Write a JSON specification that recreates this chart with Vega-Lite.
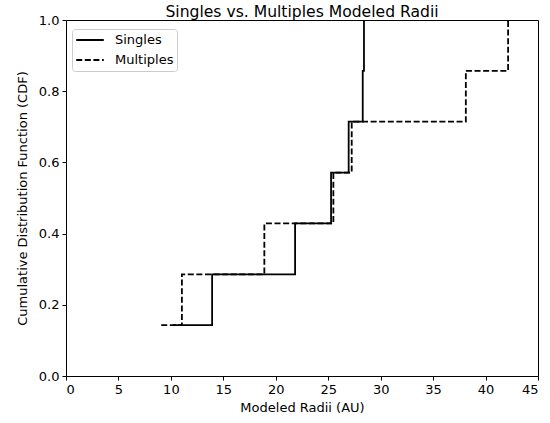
{
  "$schema": "https://vega.github.io/schema/vega-lite/v6.json",
  "autosize": {"type": "none"},
  "width": 472,
  "height": 356,
  "padding": {"left": 66, "top": 20, "right": 12, "bottom": 47},
  "background": "white",
  "config": {
    "font": "DejaVu Sans",
    "view": {"stroke": "black", "strokeWidth": 1},
    "axis": {
      "domain": false,
      "grid": false,
      "tickColor": "black",
      "tickSize": 4,
      "tickWidth": 1,
      "labelColor": "black",
      "labelFontSize": 13,
      "titleFontSize": 13,
      "titleFontWeight": "normal",
      "titleColor": "black",
      "labelPadding": 3
    }
  },
  "title": {
    "text": "Singles vs. Multiples Modeled Radii",
    "fontSize": 15.6,
    "fontWeight": "normal",
    "color": "black",
    "anchor": "middle",
    "frame": "group",
    "offset": 3,
    "dy": 10
  },
  "data": {
    "values": [
      {"group": "Singles", "radius": 10.2, "cdf": 0.142857},
      {"group": "Singles", "radius": 13.93, "cdf": 0.285714},
      {"group": "Singles", "radius": 21.84, "cdf": 0.428571},
      {"group": "Singles", "radius": 25.27, "cdf": 0.571429},
      {"group": "Singles", "radius": 26.95, "cdf": 0.714286},
      {"group": "Singles", "radius": 28.29, "cdf": 0.857143},
      {"group": "Singles", "radius": 28.41, "cdf": 1.0},
      {"group": "Multiples", "radius": 9.08, "cdf": 0.142857},
      {"group": "Multiples", "radius": 11.05, "cdf": 0.285714},
      {"group": "Multiples", "radius": 18.91, "cdf": 0.428571},
      {"group": "Multiples", "radius": 25.49, "cdf": 0.571429},
      {"group": "Multiples", "radius": 27.24, "cdf": 0.714286},
      {"group": "Multiples", "radius": 38.12, "cdf": 0.857143},
      {"group": "Multiples", "radius": 42.15, "cdf": 1.0}
    ]
  },
  "mark": {"type": "line", "interpolate": "step-after", "strokeWidth": 1.8, "color": "black", "clip": false},
  "encoding": {
    "x": {
      "field": "radius",
      "type": "quantitative",
      "scale": {"domain": [0, 45], "nice": false, "zero": false},
      "axis": {"title": "Modeled Radii (AU)", "values": [0, 5, 10, 15, 20, 25, 30, 35, 40, 45], "titlePadding": 5}
    },
    "y": {
      "field": "cdf",
      "type": "quantitative",
      "scale": {"domain": [0, 1], "nice": false},
      "axis": {"title": "Cumulative Distribution Function (CDF)", "values": [0, 0.2, 0.4, 0.6, 0.8, 1.0], "format": ".1f", "titlePadding": 9}
    },
    "strokeDash": {
      "field": "group",
      "type": "nominal",
      "scale": {"domain": ["Singles", "Multiples"], "range": [[1, 0], [6, 2.6]]},
      "legend": {
        "title": null,
        "orient": "none",
        "legendX": 6,
        "legendY": 9,
        "symbolType": "stroke",
        "symbolSize": 760,
        "symbolStrokeWidth": 1.8,
        "symbolStrokeColor": "black",
        "clipHeight": 16,
        "labelFontSize": 13,
        "labelColor": "black",
        "labelOffset": 10,
        "rowPadding": 4,
        "padding": 3,
        "strokeColor": "#cccccc",
        "fillColor": "white",
        "cornerRadius": 3
      }
    },
    "order": {"field": "radius", "type": "quantitative"}
  }
}
